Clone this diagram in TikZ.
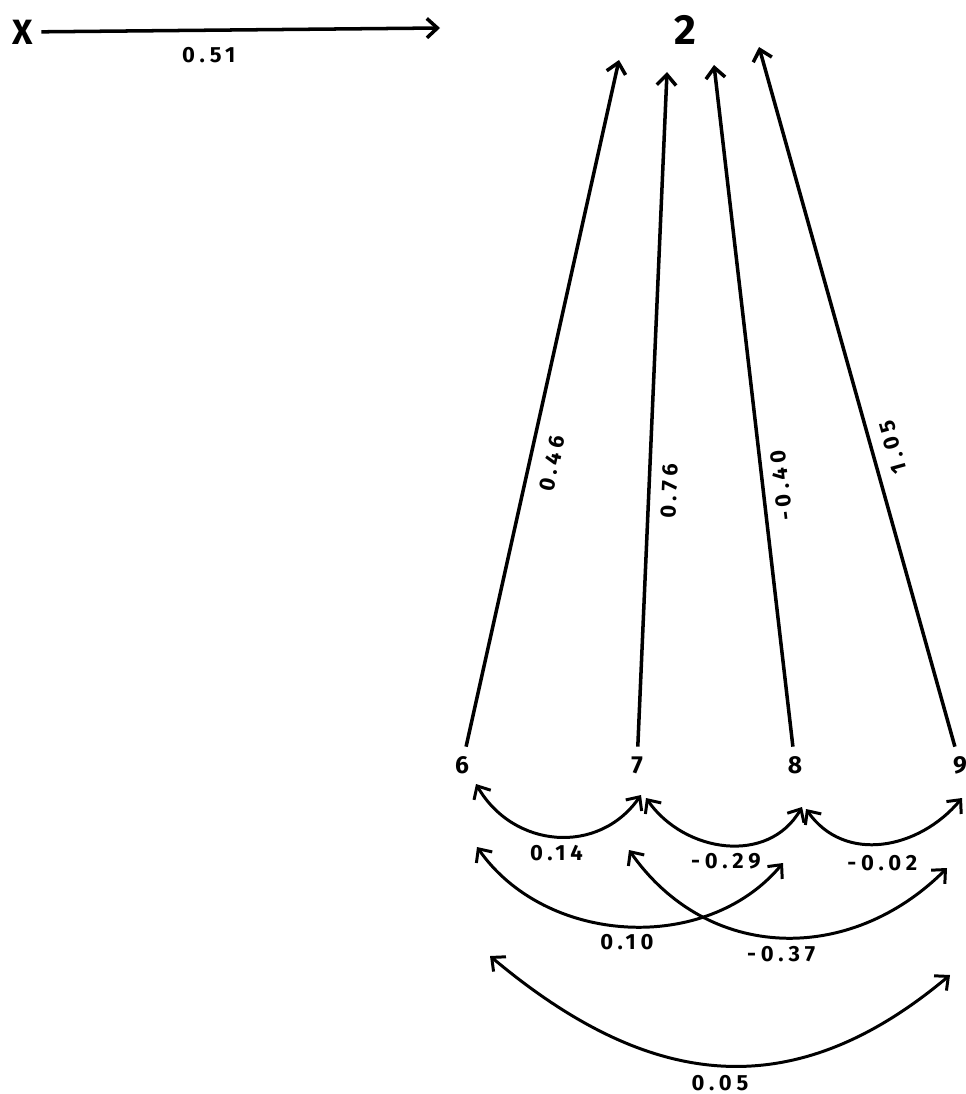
\documentclass[tikz,border=0pt]{standalone}
\usepackage{fontspec}
\setmainfont{Fira Sans}
\newfontfamily\lblfont[LetterSpace=22]{Fira Sans}
\usetikzlibrary{arrows.meta, calc}

\begin{document}
\begin{tikzpicture}[x=0.02cm, y=-0.02cm,
    >={Straight Barb[length=6pt, width=11pt]}]
  \tikzset{
    var/.style={font=\fontsize{14}{16}\selectfont\bfseries,
      minimum size=0.72cm, inner sep=0pt},
    bigvar/.style={var, font=\fontsize{20}{22}\selectfont\bfseries},
    lbl/.style={font=\lblfont\fontsize{12.5}{14}\selectfont\bfseries,
      inner sep=1pt},
    arr/.style={->, line width=2pt},
    dbl/.style={<->, line width=1.7pt},
  }
  \useasboundingbox (0,0) rectangle (965,1094);
  % variables
  \node[bigvar] (X) at (23,32) {X};
  \node[bigvar, font=\fontsize{24}{26}\selectfont\bfseries] (two) at (685,30) {2};
  \node[var] (n6) at (462,765) {6};
  \node[var] (n7) at (637,765) {7};
  \node[var] (n8) at (795,765) {8};
  \node[var] (n9) at (960,765) {9};
  % free arrow ends
  \coordinate (xend) at (440,28);
  \coordinate (t6) at (619,60);
  \coordinate (t7) at (667,72);
  \coordinate (t8) at (714,65);
  \coordinate (t9) at (759,47);
  % paths
  \draw[arr] (X) -- (xend) node[lbl, pos=0.42, below=0.28cm] {0.51};
  \draw[arr] (n6) -- (t6) node[lbl, pos=0.42, sloped, allow upside down,
    below=0.22cm] {0.46};
  \draw[arr] (n7) -- (t7) node[lbl, pos=0.38, sloped, allow upside down,
    below=0.18cm] {0.76};
  \draw[arr] (n8) -- (t8) node[lbl, pos=0.38, sloped, allow upside down,
    below=0.16cm] {-0.40};
  \draw[arr] (n9) -- (t9) node[lbl, pos=0.42, sloped, allow upside down,
    below=0.2cm] {1.05};
  % correlations
  \draw[dbl] ($(n6)+(14,19)$) to[out=-60, in=-125, looseness=1.15]
    node[lbl, midway, below=3pt] {0.14} ($(n7)+(4,30)$);
  \draw[dbl] ($(n7)+(9,33)$) to[out=-55, in=-120, looseness=1.1]
    node[lbl, midway, below=3pt] {-0.29} ($(n8)+(7,42)$);
  \draw[dbl] ($(n8)+(11,44)$) to[out=-55, in=-130, looseness=1.1]
    node[lbl, midway, below=5pt] {-0.02} ($(n9)+(2,33)$);
  \draw[dbl] ($(n6)+(15,82)$) to[out=-55, in=-130]
    node[lbl, midway, below=3pt] {0.10} ($(n8)+(-12,98)$);
  \draw[dbl] ($(n7)+(-8,85)$) to[out=-55, in=-135, looseness=1.1]
    node[lbl, midway, below=3pt] {-0.37} ($(n9)+(-13,103)$);
  \draw[dbl] ($(n6)+(28,191)$) to[out=-40, in=-140, looseness=1.15]
    node[lbl, midway, below=4pt] {0.05} ($(n9)+(-10,210)$);
\end{tikzpicture}
\end{document}
